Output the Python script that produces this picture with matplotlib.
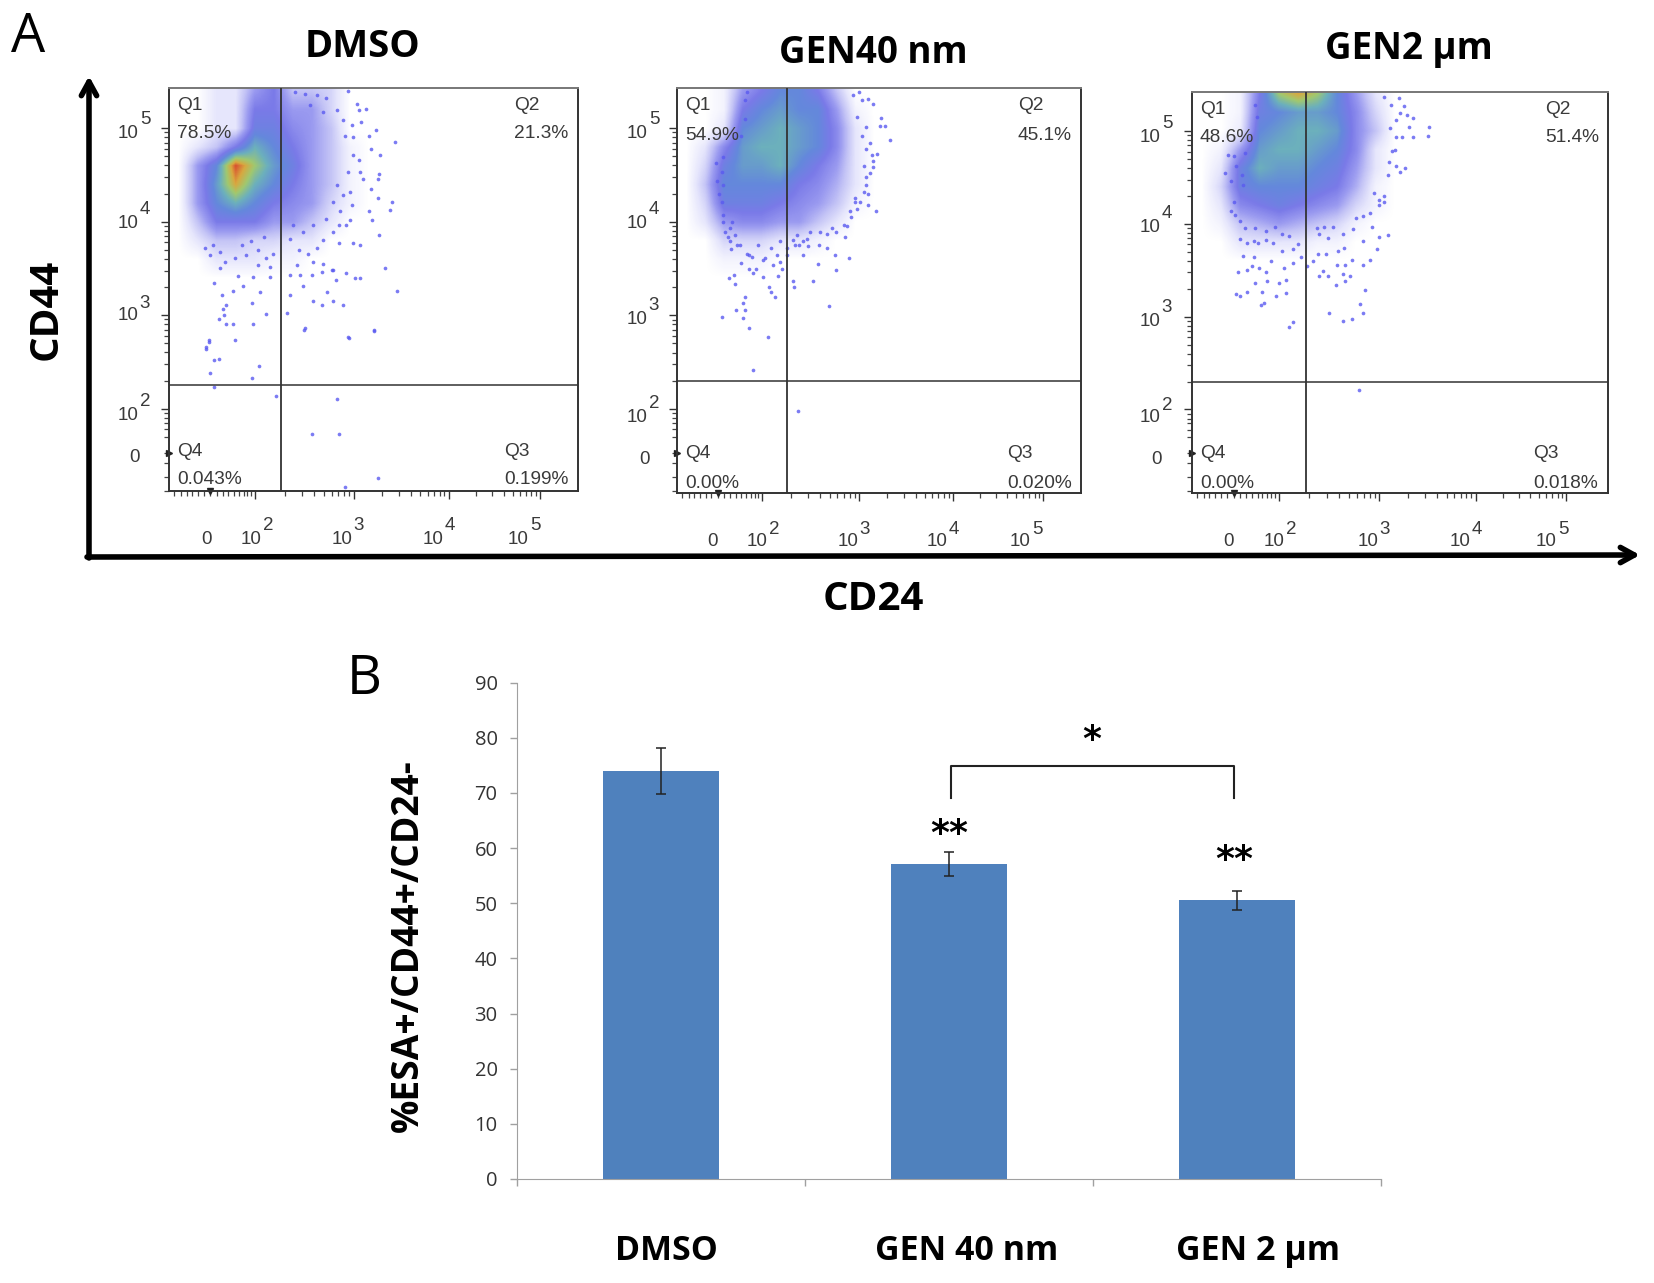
import numpy as np
import matplotlib
matplotlib.use("Agg")
import matplotlib.pyplot as plt
from matplotlib.colors import LinearSegmentedColormap

# Page size in pixels, everything on the page overlay is placed in these units
W, H = 1654, 1283

# Panel A: the thousands of single events cannot be read one by one, so the
# dense cloud is a coarse density grid (log10 units),
# and only the sparser events around it are drawn as points.
grid_x = [1.2, 1.4, 1.6, 1.8, 2.0, 2.2, 2.4, 2.6, 2.8, 3.0, 3.2]
grid_y = [5.4, 5.2, 5.0, 4.8, 4.6, 4.4, 4.2, 4.0, 3.8, 3.6, 3.4, 3.2, 3.0]

dmso_density = [
    [0, 0, 1, 1, 3, 4, 2, 2, 1.5, 0, 0],
    [0, 0, 1, 1, 4, 4, 3, 3, 1.5, 0, 0],
    [0, 0, 1, 1, 4.5, 4.5, 3.5, 3, 2, 0, 0],
    [0, 1, 2, 4, 6, 5, 4, 3, 2, 0.5, 0],
    [0, 3, 5, 9, 7, 5.5, 4.5, 3, 2, 0.5, 0],
    [0, 3, 5.5, 8, 6, 5, 4, 3, 2, 0.5, 0],
    [0, 3, 5, 6, 5, 4, 3.5, 3, 1.5, 0.5, 0],
    [0, 2, 4, 4, 4, 3, 3, 2, 1, 0, 0],
    [0, 1, 2, 2, 1.5, 1.5, 1, 1, 0, 0, 0],
    [0, 0, 1, 1, 1, 0.5, 0.5, 0, 0, 0, 0],
    [0, 0, 0, 0, 0, 0, 0, 0, 0, 0, 0],
    [0, 0, 0, 0, 0, 0, 0, 0, 0, 0, 0],
    [0, 0, 0, 0, 0, 0, 0, 0, 0, 0, 0],
]
gen40_density = [
    [0, 0, 0.5, 3, 4, 5, 5, 4, 2, 0, 0],
    [0, 0, 0.5, 4, 5, 5.5, 5, 5, 3, 0.5, 0],
    [0, 0, 1, 5, 5.5, 6, 5.5, 5, 3.5, 1, 0],
    [0, 1, 3.5, 5.5, 6, 6, 5.5, 5, 3.5, 1, 0],
    [0, 1.5, 4.5, 5.5, 5.5, 6, 5, 4, 3, 1, 0],
    [0, 2, 5, 5, 5, 5, 4, 3.5, 2.5, 1, 0],
    [0, 1.5, 4.5, 4.5, 4.5, 4, 3.5, 3, 2, 0.5, 0],
    [0, 1, 3, 3.5, 3.5, 3, 3, 2, 1, 0, 0],
    [0, 0, 1.5, 1.5, 1.5, 1, 1, 0.5, 0, 0, 0],
    [0, 0, 0.5, 0.5, 0.5, 0, 0, 0, 0, 0, 0],
    [0, 0, 0, 0, 0, 0, 0, 0, 0, 0, 0],
    [0, 0, 0, 0, 0, 0, 0, 0, 0, 0, 0],
    [0, 0, 0, 0, 0, 0, 0, 0, 0, 0, 0],
]
gen2_density = [
    [0, 0, 0.5, 4, 7, 8, 7, 5, 3, 1, 0],
    [0, 0, 0.5, 4.5, 5, 5.5, 5.5, 5, 3.5, 1.5, 0],
    [0, 0, 0.8, 5, 5.5, 6, 6, 5.5, 3.5, 2, 0],
    [0, 0.5, 3, 5.5, 6, 6, 5.5, 5, 3.5, 1, 0],
    [0, 1, 4.5, 6, 5.5, 5.5, 5, 4.5, 3, 1, 0],
    [0, 1.5, 4.5, 5, 5, 5, 4.5, 4, 2.5, 0.5, 0],
    [0, 1, 3.5, 4, 4.5, 4, 3.5, 3, 1.5, 0.5, 0],
    [0, 0.5, 2, 2.5, 3, 2.5, 2, 1.5, 0.5, 0, 0],
    [0, 0, 1, 1, 1, 1, 0.5, 0.5, 0, 0, 0],
    [0, 0, 0, 0, 0, 0, 0, 0, 0, 0, 0],
    [0, 0, 0, 0, 0, 0, 0, 0, 0, 0, 0],
    [0, 0, 0, 0, 0, 0, 0, 0, 0, 0, 0],
    [0, 0, 0, 0, 0, 0, 0, 0, 0, 0, 0],
]

# Sparse events read by eye: (log10 CD24, log10 CD44)
dmso_x = [3.49, 3.47, 3.37, 3.27, 3.44, 3.42, 3.31, 3.32, 3.25, 2.98, 2.53, 1.98, 1.77, 1.70, 1.79,
          1.52, 1.48, 1.62, 1.67, 1.66, 1.70, 2.12, 2.34, 1.97, 1.65, 2.61, 2.71, 2.82, 2.93, 2.37,
          2.76, 2.51, 3.05, 3.11, 2.85, 2.96, 2.71, 2.81, 2.60, 2.47, 2.37, 2.05, 1.77, 1.87, 1.57,
          1.82, 2.16, 1.98, 3.03, 3.11, 2.88, 3.20, 3.23, 3.29, 3.22, 3.30, 3.31, 3.22, 3.20, 3.09,
          3.17, 2.98, 3.07, 3.12, 3.03, 1.48, 1.52, 1.57, 1.62, 1.53, 2.04, 1.97, 1.57, 2.22, 2.86,
          2.60, 2.88, 3.30, 2.95, 2.99, 3.25, 2.52,
          1.47, 1.56, 1.63, 1.53, 1.68, 1.79, 1.91, 2.03, 2.12, 2.19, 1.96, 2.10, 1.86, 1.63, 2.03,
          2.16, 2.37, 2.46, 2.44, 2.56, 2.61, 2.72, 2.82, 2.65, 2.72, 2.88, 2.96, 3.00, 2.82, 2.51,
          2.40, 2.61, 3.02, 3.00, 3.11, 3.14, 2.95, 3.02, 2.86, 2.75, 2.65, 2.53, 2.42, 2.58, 2.72,
          2.93, 3.03, 3.09, 2.98, 2.86, 2.93, 2.82, 2.89, 2.75]
dmso_y = [3.26, 4.85, 3.50, 4.98, 4.21, 4.13, 3.86, 4.71, 2.84, 2.77, 2.86, 2.91, 2.91, 2.91, 2.74,
          2.73, 2.66, 2.96, 3.00, 3.07, 3.11, 3.01, 3.02, 3.13, 3.22, 3.15, 3.11, 3.15, 3.11, 3.22,
          3.25, 3.31, 3.40, 3.40, 3.38, 3.45, 3.46, 3.48, 3.43, 3.43, 3.43, 3.25, 3.26, 3.31, 3.34,
          3.42, 3.41, 3.41, 3.77, 3.75, 3.77, 4.11, 4.02, 4.25, 4.35, 4.46, 4.51, 4.78, 4.92, 5.19,
          5.21, 5.40, 5.26, 5.07, 4.91, 2.64, 2.71, 2.52, 2.53, 2.38, 2.46, 2.33, 2.23, 2.14, 2.10,
          1.73, 1.73, 1.26, 1.16, 2.76, 2.83, 2.84,
          3.72, 3.75, 3.68, 3.64, 3.57, 3.61, 3.64, 3.70, 3.61, 3.66, 3.79, 3.84, 3.75, 3.50, 3.54,
          3.52, 3.82, 3.70, 3.54, 3.66, 3.57, 3.55, 3.48, 3.72, 3.80, 3.96, 3.96, 4.02, 3.89, 3.89,
          3.96, 3.96, 4.18, 4.32, 4.53, 4.46, 4.92, 5.03, 5.19, 5.32, 5.35, 5.37, 5.39, 5.25, 5.17,
          5.09, 4.71, 4.66, 4.53, 4.39, 4.29, 4.21, 4.11, 4.03]

gen40_x = [3.36, 3.31, 3.26, 3.21, 3.13, 3.13, 3.22, 3.18, 3.18, 3.15, 3.18, 3.13, 3.25, 2.92, 2.79,
           2.78, 2.59, 2.54, 2.33, 2.34, 2.71, 2.14, 2.09, 2.07, 1.82, 1.80, 1.72, 1.82, 1.57, 1.80,
           1.86, 2.06, 1.71, 1.65, 1.70, 2.01, 2.17, 1.90, 1.86, 2.21, 2.44, 2.49, 2.69, 2.39, 2.88,
           2.79, 2.69, 3.01, 2.99, 2.95, 2.90, 3.08, 1.59, 1.59, 1.52, 1.54, 1.51, 1.64, 1.67, 1.73,
           1.84, 1.89, 2.03, 1.90, 2.38,
           1.66, 1.77, 1.86, 1.96, 2.09, 2.16, 2.19, 2.01, 2.12, 1.78, 1.94, 2.35, 2.44, 2.48, 2.60,
           2.37, 2.33, 2.62, 2.74, 2.87, 2.94, 3.04, 2.99, 3.10, 3.11, 3.08, 3.17, 3.10, 3.15, 3.06,
           3.11, 3.01, 3.06, 2.97, 3.03, 1.66, 1.61, 1.71, 1.68, 1.57, 1.59, 1.57, 1.59, 1.84, 1.82,
           1.82, 1.78, 2.51, 2.19, 2.26, 2.26]
gen40_y = [4.87, 5.02, 5.11, 4.11, 4.18, 4.30, 4.72, 4.65, 4.59, 4.52, 5.26, 5.31, 5.02, 3.61, 3.48,
           3.64, 3.55, 3.37, 3.37, 3.30, 3.10, 3.20, 3.25, 3.30, 3.20, 3.13, 3.06, 3.06, 2.98, 2.97,
           2.86, 2.77, 3.33, 3.40, 3.43, 3.41, 3.42, 3.45, 3.49, 3.50, 3.64, 3.74, 3.72, 3.75, 3.84,
           3.89, 3.87, 4.14, 4.21, 4.05, 3.95, 4.32, 4.07, 4.00, 4.44, 4.30, 4.63, 3.84, 3.71, 3.75,
           3.66, 3.62, 3.61, 2.41, 1.98,
           3.79, 3.75, 3.64, 3.75, 3.72, 3.64, 3.57, 3.59, 3.54, 3.56, 3.50, 3.75, 3.79, 3.82, 3.75,
           3.86, 3.80, 3.89, 3.93, 3.96, 4.11, 4.21, 4.25, 4.39, 4.48, 4.60, 4.71, 4.78, 4.84, 4.92,
           5.01, 5.12, 5.30, 5.35, 5.39, 3.93, 3.89, 3.86, 4.00, 4.21, 4.39, 4.53, 4.69, 5.39, 5.30,
           5.10, 4.92, 3.89, 3.79, 3.72, 3.64]

gen2_x = [3.56, 3.55, 3.39, 3.39, 3.35, 3.28, 3.33, 3.30, 3.24, 3.31, 3.25, 3.20, 3.09, 3.09, 3.04,
          3.13, 3.04, 3.02, 2.94, 2.87, 2.89, 2.84, 2.87, 2.76, 2.66, 2.52, 2.68, 2.59, 2.74, 2.66,
          2.51, 2.42, 2.46, 2.60, 2.68, 2.76, 2.41, 2.49, 2.67, 2.15, 2.11, 1.85, 1.82, 2.07, 1.97,
          1.83, 1.67, 1.60, 1.56, 1.75, 1.88, 2.00, 2.07, 1.58, 1.67, 1.79, 1.87, 1.72, 2.05, 1.63,
          1.74, 1.60, 1.67, 1.78, 1.94, 1.50, 1.54, 1.44, 1.50, 1.47, 1.53, 2.83,
          1.55, 1.60, 1.65, 1.75, 1.87, 1.96, 1.74, 1.87, 2.03, 2.15, 2.20, 2.15, 1.92, 2.10, 2.03,
          2.42, 2.51, 2.39, 2.47, 2.56, 2.66, 2.77, 2.87, 2.96, 2.80, 2.87, 2.94, 3.04, 2.99, 3.13,
          3.21, 3.14, 3.17, 3.21, 3.15, 3.21, 3.25, 3.16, 3.09, 1.63, 1.62, 1.65, 1.56, 1.75, 1.77,
          2.35, 2.29, 2.23, 2.61]
gen2_y = [5.04, 4.95, 4.93, 5.14, 5.04, 4.94, 5.17, 5.27, 5.35, 4.60, 4.56, 4.79, 4.30, 4.24, 4.20,
          3.88, 3.86, 3.73, 3.61, 3.56, 3.29, 3.14, 3.04, 2.97, 2.95, 3.04, 3.38, 3.34, 3.44, 3.46,
          3.44, 3.44, 3.49, 3.56, 3.56, 3.61, 3.68, 3.68, 3.74, 2.94, 2.89, 3.15, 3.13, 3.25, 3.22,
          3.27, 3.27, 3.22, 3.24, 3.36, 3.38, 3.36, 3.39, 3.48, 3.50, 3.52, 3.48, 3.55, 3.52, 3.65,
          3.64, 3.84, 3.79, 3.79, 3.79, 4.14, 4.24, 4.55, 4.46, 4.74, 4.73, 2.21,
          4.10, 4.03, 3.96, 3.96, 3.92, 3.97, 3.81, 3.83, 3.71, 3.73, 3.78, 3.58, 3.60, 3.87, 3.89,
          3.89, 3.85, 3.96, 3.97, 3.97, 3.89, 3.94, 3.81, 3.97, 4.06, 4.08, 4.12, 4.26, 4.33, 4.53,
          4.62, 4.67, 4.78, 4.94, 5.03, 5.12, 5.19, 5.28, 5.37, 4.42, 4.53, 4.76, 4.62, 5.28, 5.15,
          3.60, 3.55, 3.64, 3.71]

panel_titles = ["DMSO", "GEN40 nm", "GEN2 µm"]
q1_labels = ["78.5%", "54.9%", "48.6%"]
q2_labels = ["21.3%", "45.1%", "51.4%"]
q3_labels = ["0.199%", "0.020%", "0.018%"]
q4_labels = ["0.043%", "0.00%", "0.00%"]
gate_x = [2.27, 2.27, 2.28]
gate_y = [2.25, 2.30, 2.30]

# Panel B
categories = ["DMSO", "GEN 40 nm", "GEN 2 µm"]
percent_values = [74, 57.1, 50.5]
percent_errors = [4.15, 2.1, 1.7]

density_colors = ["#ffffff", "#e6e6fc", "#c4c4f6", "#9a9af0", "#7a7ae8", "#6488dc",
                  "#6cb0bc", "#a0c870", "#d8a840", "#d85030"]
density_cmap = LinearSegmentedColormap.from_list("flow", density_colors)

fig = plt.figure(figsize=(W / 100, H / 100), dpi=100, facecolor="white")

page = fig.add_axes([0, 0, 1, 1])
page.set_xlim(0, W)
page.set_ylim(H, 0)
page.axis("off")
page.set_zorder(10)


def add_box(left, top, right, bottom):
    return fig.add_axes([left / W, 1 - bottom / H, (right - left) / W, (bottom - top) / H])


def put(x, y, s, size, weight="normal", color="black", ha="center", family="Open Sans", rot=0):
    page.text(x, y, s, fontsize=size, fontweight=weight, color=color, ha=ha, va="center",
              family=family, rotation=rot, zorder=20)


def power_label(x, y, power):
    put(x, y, "10", 13.5, color="#3a3a3a", family="Liberation Sans")
    put(x + 17, y - 13, power, 13.5, color="#3a3a3a", family="Liberation Sans")


# Panel A layout
boxes = [(169, 88, 578, 491), (677, 88, 1081, 493), (1192, 92, 1608, 493)]
x_limits = [(1.095, 5.40), (1.096, 5.39), (1.10, 5.41)]
y_limits = [(1.126, 5.43), (1.10, 5.43), (1.10, 5.42)]
x_major = [[2, 3.04, 4.04, 5.0], [2, 3.03, 4.03, 4.99], [2, 3.04, 4.04, 4.98]]
densities = [dmso_density, gen40_density, gen2_density]
events_x = [dmso_x, gen40_x, gen2_x]
events_y = [dmso_y, gen40_y, gen2_y]
title_pos = [(363, 47), (873, 53), (1409, 49)]
title_size = [27.5, 26.5, 26.5]
q_text_x = [(177, 514, 504), (685, 1018, 1007), (1200, 1545, 1533)]
q_top_y = [(105, 134), (105, 135), (109, 138)]
q_low_y = [(451, 480), (453, 483), (453, 483)]
x_label_x = [(206, 251, 342, 433, 518), (713, 757, 848, 937, 1020), (1229, 1274, 1368, 1460, 1546)]
x_label_y = [539, 542, 542]
y_label_x = [(135, 128), (644, 637), (1157, 1150)]
y_label_y = [(457, 415, 316, 223, 133), (459, 417, 319, 223, 133), (459, 418, 321, 227, 137)]

low_x_ticks = [1.15, 1.22, 1.28, 1.34, 1.4, 1.46, 1.53, 1.6, 1.66, 1.72, 1.78, 1.83, 1.88, 1.92, 1.96]
low_y_ticks = [1.12, 1.27, 1.42, 1.53, 1.7, 1.78, 1.85, 1.9, 1.95]

for i in range(3):
    ax = add_box(*boxes[i])
    ax.imshow(densities[i], cmap=density_cmap, vmin=0, vmax=9, aspect="auto", interpolation="bilinear",
              extent=(grid_x[0] - 0.1, grid_x[-1] + 0.1, grid_y[-1] - 0.1, grid_y[0] + 0.1), zorder=1)
    ax.scatter(events_x[i], events_y[i], s=7, color="#5a5af0", linewidths=0, alpha=0.8, zorder=2)
    ax.axvline(gate_x[i], color="#333333", lw=1.3, zorder=3)
    ax.axhline(gate_y[i], color="#333333", lw=1.1, zorder=3)
    ax.set_xlim(*x_limits[i])
    ax.set_ylim(*y_limits[i])

    decade_steps = np.log10(np.arange(2, 10))
    ax.set_xticks(x_major[i])
    ax.set_yticks([2, 3, 4, 5])
    x_minor = list(low_x_ticks)
    y_minor = list(low_y_ticks)
    for d in range(3):
        x_minor += list(x_major[i][d] + decade_steps * (x_major[i][d + 1] - x_major[i][d]))
        y_minor += list(2 + d + decade_steps)
    ax.set_xticks(x_minor, minor=True)
    ax.set_yticks(y_minor, minor=True)
    ax.set_xticklabels([])
    ax.set_yticklabels([])
    ax.tick_params(which="major", length=6, width=1, color="#333333")
    ax.tick_params(which="minor", length=3.5, width=0.9, color="#444444")
    for side in ax.spines.values():
        side.set_color("#333333")
        side.set_linewidth(1.4)
    ax.spines["top"].set_color("#777777")

    # small marks where zero sits on each axis
    ax.plot([1.53], [0], marker="v", ms=5, color="#222222", clip_on=False,
            transform=ax.get_xaxis_transform())
    ax.plot([0], [1.53], marker=">", ms=5, color="#222222", clip_on=False,
            transform=ax.get_yaxis_transform())

    put(title_pos[i][0], title_pos[i][1], panel_titles[i], title_size[i], weight="bold")

    qx = q_text_x[i]
    for s, x, y in [("Q1", qx[0], q_top_y[i][0]), (q1_labels[i], qx[0], q_top_y[i][1]),
                    ("Q2", qx[1], q_top_y[i][0]), (q2_labels[i], qx[1], q_top_y[i][1]),
                    ("Q4", qx[0], q_low_y[i][0]), (q4_labels[i], qx[0], q_low_y[i][1]),
                    ("Q3", qx[2], q_low_y[i][0]), (q3_labels[i], qx[2], q_low_y[i][1])]:
        put(x, y, s, 13.8, color="#3a3a3a", ha="left", family="Liberation Sans")

    lx = x_label_x[i]
    put(lx[0], x_label_y[i], "0", 13.5, color="#3a3a3a", family="Liberation Sans")
    for x, power in zip(lx[1:], ["2", "3", "4", "5"]):
        power_label(x, x_label_y[i], power)
    ly = y_label_y[i]
    put(y_label_x[i][0], ly[0], "0", 13.5, color="#3a3a3a", family="Liberation Sans")
    for y, power in zip(ly[1:], ["2", "3", "4", "5"]):
        power_label(y_label_x[i][1], y, power)

# Long hand drawn axes of panel A
arrow = dict(arrowstyle="->,head_length=1.0,head_width=0.55", color="black", lw=4, shrinkA=0, shrinkB=0)
page.annotate("", xy=(89, 76), xytext=(89, 558), arrowprops=arrow)
page.annotate("", xy=(1640, 555), xytext=(87, 557), arrowprops=arrow)

put(28, 37, "A", 39)
put(364, 679, "B", 39)
put(46, 309, "CD44", 29, weight="bold", rot=90)
put(873, 599, "CD24", 29, weight="bold")

# Panel B
bar_ax = add_box(517, 682.5, 1381, 1179)
positions = np.arange(len(categories))
bar_ax.bar(positions, percent_values, width=0.4, color="#4f81bd",
           yerr=percent_errors, ecolor="#222222", error_kw=dict(lw=1.1, capsize=3.5, capthick=1.1))
bar_ax.set_xlim(-0.5, 2.5)
bar_ax.set_ylim(0, 90)
bar_ax.set_yticks(range(0, 91, 10))
bar_ax.set_xticks([-0.5, 0.5, 1.5, 2.5])
bar_ax.set_xticklabels([])
bar_ax.tick_params(axis="both", length=5, width=1, color="#a0a0a0", labelcolor="#333333", labelsize=14.5, pad=9)
for label in bar_ax.get_yticklabels():
    label.set_family("Open Sans")
bar_ax.spines["top"].set_visible(False)
bar_ax.spines["right"].set_visible(False)
bar_ax.spines["left"].set_color("#a0a0a0")
bar_ax.spines["bottom"].set_color("#a0a0a0")

bar_ax.plot([1.007, 1.007, 1.988, 1.988], [69, 74.9, 74.9, 69], color="#222222", lw=1.5)
bar_ax.text(1.494, 79.5, "*", fontsize=26, fontweight="bold", ha="center", va="center", family="DejaVu Sans")
bar_ax.text(1.0, 62.5, "**", fontsize=26, fontweight="bold", ha="center", va="center", family="DejaVu Sans")
bar_ax.text(1.99, 57.9, "**", fontsize=26, fontweight="bold", ha="center", va="center", family="DejaVu Sans")

put(408, 946, "%ESA+/CD44+/CD24-", 26.7, weight="bold", rot=90)
for x, s in zip([666, 967, 1258], categories):
    put(x, 1251, s, 24.5, weight="bold")

fig.savefig("out.png", dpi=100)
